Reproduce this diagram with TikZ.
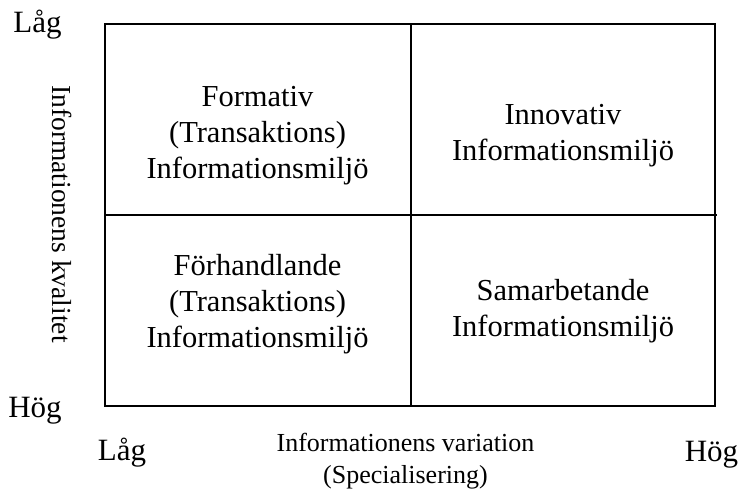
\documentclass[tikz,border=0pt]{standalone}
\usepackage{fontspec}
\setmainfont{Liberation Serif}
\pgfdeclarelayer{edgelayer}
\pgfdeclarelayer{nodelayer}
\pgfsetlayers{edgelayer,nodelayer,main}
\tikzstyle{none}=[inner sep=0pt]
\tikzstyle{quad}=[align=center,font=\fontsize{30.5}{36}\selectfont]
\tikzstyle{level}=[anchor=base,font=\fontsize{31}{36}\selectfont]
\tikzstyle{axis}=[align=center,font=\fontsize{26}{32}\selectfont]
\tikzstyle{grid}=[line width=2pt]

\begin{document}
\begin{tikzpicture}[x=1pt,y=1pt]
	\useasboundingbox (0,0) rectangle (741,492);
	\begin{pgfonlayer}{nodelayer}
		\node [style=none] (0) at (104.5, 468) {};
		\node [style=none] (1) at (715, 468) {};
		\node [style=none] (2) at (715, 86) {};
		\node [style=none] (3) at (104.5, 86) {};
		\node [style=none] (4) at (410.5, 468) {};
		\node [style=none] (5) at (410.5, 86) {};
		\node [style=none] (6) at (104.5, 276.5) {};
		\node [style=none] (7) at (717, 276.5) {};
		\node [style=quad] (8) at (257.5, 356) {Formativ\\(Transaktions)\\Informationsmiljö};
		\node [style=quad] (9) at (563, 356) {Innovativ\\Informationsmiljö};
		\node [style=quad] (10) at (257.5, 188) {Förhandlande\\(Transaktions)\\Informationsmiljö};
		\node [style=quad] (11) at (563, 181) {Samarbetande\\Informationsmiljö};
		\node [style=level] (12) at (37.5, 459) {Låg};
		\node [style=level] (13) at (35, 74) {Hög};
		\node [style=level] (14) at (122, 31) {Låg};
		\node [style=level] (15) at (711.5, 30) {Hög};
		\node [style=axis] (16) at (405.5, 30.5) {Informationens variation\\(Specialisering)};
		\node [style=axis,font=\fontsize{27.5}{32}\selectfont,rotate=-90] (17) at (62, 278) {Informationens kvalitet};
	\end{pgfonlayer}
	\begin{pgfonlayer}{edgelayer}
		\draw [style=grid] (0.center) to (1.center) to (2.center) to (3.center) -- cycle;
		\draw [style=grid] (4.center) to (5.center);
		\draw [style=grid] (6.center) to (7.center);
	\end{pgfonlayer}
\end{tikzpicture}
\end{document}
